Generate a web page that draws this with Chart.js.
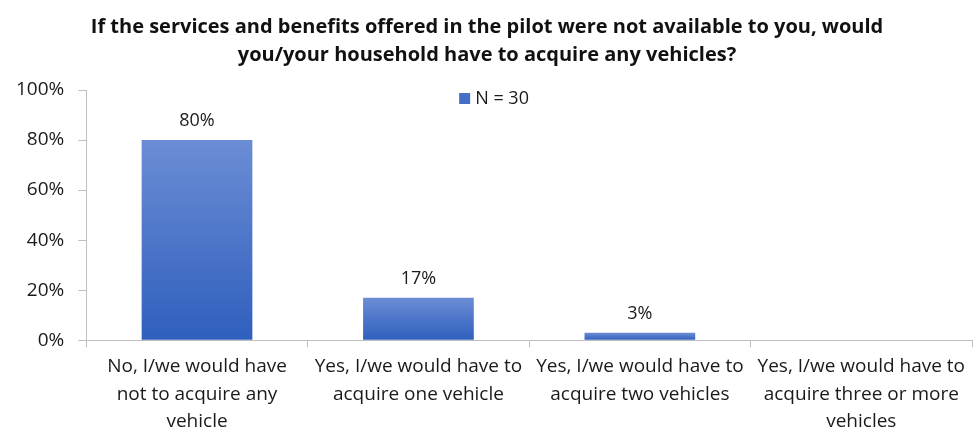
<!DOCTYPE html>
<html>
<head>
<meta charset="utf-8">
<script src="https://cdn.jsdelivr.net/npm/chart.js@4/dist/chart.umd.min.js"></script>
<style>
  html, body { margin: 0; padding: 0; background: #fff; }
  #wrap { width: 978px; height: 430px; }
</style>
</head>
<body>
<div id="wrap"><canvas id="barChart"></canvas></div>
<script>
const categories = [
    ['No, I/we would have', 'not to acquire any', 'vehicle'],
    ['Yes, I/we would have to', 'acquire one vehicle'],
    ['Yes, I/we would have to', 'acquire two vehicles'],
    ['Yes, I/we would have to', 'acquire three or more', 'vehicles']
];
const shares = [80, 17, 3, 0];
const dataLabels = ['80%', '17%', '3%', ''];
const seriesName = 'N = 30';
const titleLines = [
    'If the services and benefits offered in the pilot were not available to you, would',
    'you/your household have to acquire any vehicles?'
];

const FONT = '"Open Sans", Lato, sans-serif';

// per-bar vertical gradient, lighter on top like the Excel original
function barFill(ctx) {
    const chart = ctx.chart;
    const y = chart.scales.y;
    if (!chart.chartArea || !y || ctx.type !== 'data') return '#4a74c9';
    const top = y.getPixelForValue(ctx.raw);
    const base = y.getPixelForValue(0);
    if (!isFinite(top) || base - top < 1) return '#3a66c2';
    const g = chart.ctx.createLinearGradient(0, top, 0, base);
    g.addColorStop(0, '#6b8dd5');
    g.addColorStop(1, '#2f5fbd');
    return g;
}

const valueLabels = {
    id: 'valueLabels',
    afterDatasetsDraw(chart) {
        const c = chart.ctx;
        const meta = chart.getDatasetMeta(0);
        c.save();
        c.font = '18px ' + FONT;
        c.fillStyle = '#1a1a1a';
        c.textAlign = 'center';
        c.textBaseline = 'middle';
        meta.data.forEach(function (bar, i) {
            if (!dataLabels[i]) return;
            c.fillText(dataLabels[i], bar.x, bar.y - 19);
        });
        c.restore();
    }
};

// legend sits inside the plot, a bit left of centre
const innerLegend = {
    id: 'innerLegend',
    afterDraw(chart) {
        const c = chart.ctx;
        const area = chart.chartArea;
        const x = (area.left + area.right) / 2 - 70;
        const y = area.top + 8;
        c.save();
        c.fillStyle = '#4370c6';
        c.fillRect(x, y - 5, 11, 11);
        c.font = '18px ' + FONT;
        c.fillStyle = '#1a1a1a';
        c.textAlign = 'left';
        c.textBaseline = 'middle';
        c.fillText(seriesName, x + 16, y + 1);
        c.restore();
    }
};

const configBarChart = {
    type: 'bar',
    data: {
        labels: categories,
        datasets: [{
            label: seriesName,
            data: shares,
            backgroundColor: barFill,
            borderWidth: 0,
            categoryPercentage: 1,
            barPercentage: 0.5
        }]
    },
    options: {
        responsive: true,
        maintainAspectRatio: false,
        animation: false,
        layout: { padding: { left: 2, right: 6, top: 0, bottom: 0 } },
        plugins: {
            legend: { display: false },
            title: {
                display: true,
                text: titleLines,
                font: { family: FONT, size: 20, weight: 'bold', lineHeight: 1.4 },
                color: '#111',
                padding: { top: 13, bottom: 21 }
            },
            tooltip: { enabled: false }
        },
        scales: {
            x: {
                // let the last label line run to the bottom edge
                afterFit: function (scale) { scale.height -= 11; },
                grid: {
                    offset: true,
                    drawOnChartArea: false,
                    drawTicks: true,
                    tickLength: 7,
                    color: '#bfbfbf'
                },
                border: { color: '#bfbfbf' },
                ticks: {
                    maxRotation: 0,
                    autoSkip: false,
                    padding: 5,
                    color: '#1a1a1a',
                    font: { family: FONT, size: 19, lineHeight: 1.47 }
                }
            },
            y: {
                min: 0,
                max: 100,
                grid: {
                    drawOnChartArea: false,
                    drawTicks: true,
                    tickLength: 8,
                    color: '#bfbfbf'
                },
                border: { color: '#bfbfbf' },
                ticks: {
                    stepSize: 20,
                    padding: 14,
                    color: '#1a1a1a',
                    font: { family: FONT, size: 19 },
                    callback: function (v) { return v + '%'; }
                }
            }
        }
    },
    plugins: [valueLabels, innerLegend]
};

var barChart = new Chart(document.getElementById('barChart'), configBarChart);
</script>
</body>
</html>
